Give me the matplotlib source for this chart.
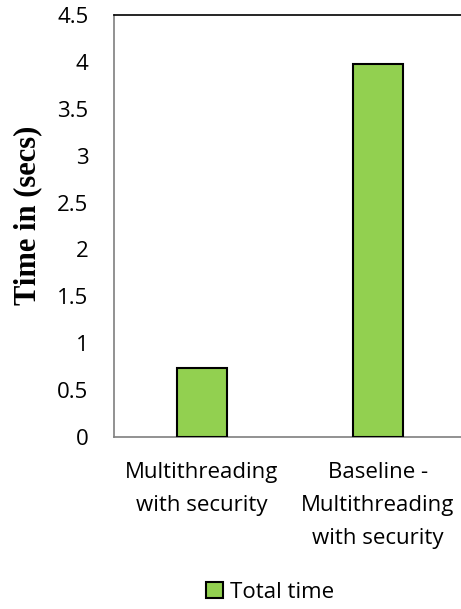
import matplotlib.pyplot as plt
import numpy as np

categories = ['Multithreading\nwith security', 'Baseline -\nMultithreading\nwith security']
total_time = [0.74, 3.98]
y_ticks = [0, 0.5, 1, 1.5, 2, 2.5, 3, 3.5, 4, 4.5]
y_tick_labels = ['0', '0.5', '1', '1.5', '2', '2.5', '3', '3.5', '4', '4.5']

plt.rcParams['font.family'] = ['Open Sans', 'DejaVu Sans']

fig = plt.figure(figsize=(4.61, 6.09), dpi=100)
ax = fig.add_axes([114 / 461, 1 - 437 / 609, 352 / 461, 422 / 609])

x = np.arange(len(categories))
ax.bar(x, total_time, width=0.285, color='#92D050', edgecolor='black',
       linewidth=1.5, label='Total time', zorder=3)

ax.set_xlim(-0.5, 1.5)
ax.set_ylim(0, 4.5)
ax.set_yticks(y_ticks)
ax.set_yticklabels(y_tick_labels, fontsize=16)
ax.set_xticks(x)
ax.set_xticklabels(categories, fontsize=16, linespacing=1.75)
ax.tick_params(axis='both', length=0)
ax.tick_params(axis='y', pad=18.5)
ax.tick_params(axis='x', pad=18)

ax.spines['top'].set_color('black')
ax.spines['top'].set_linewidth(1.2)
ax.spines['right'].set_visible(False)
for side in ('left', 'bottom'):
    ax.spines[side].set_color('#7f7f7f')
    ax.spines[side].set_linewidth(1.2)

ax.set_ylabel('Time in (secs)', fontsize=22, fontweight='bold',
              family='Liberation Serif')
ax.yaxis.set_label_coords(-0.205, 0.526)

fig.legend(loc='center', bbox_to_anchor=(270 / 461, 1 - 592 / 609),
           frameon=False, fontsize=16, handlelength=0.75, handleheight=0.75,
           handletextpad=0.3)

fig.savefig('out.png', dpi=100)
